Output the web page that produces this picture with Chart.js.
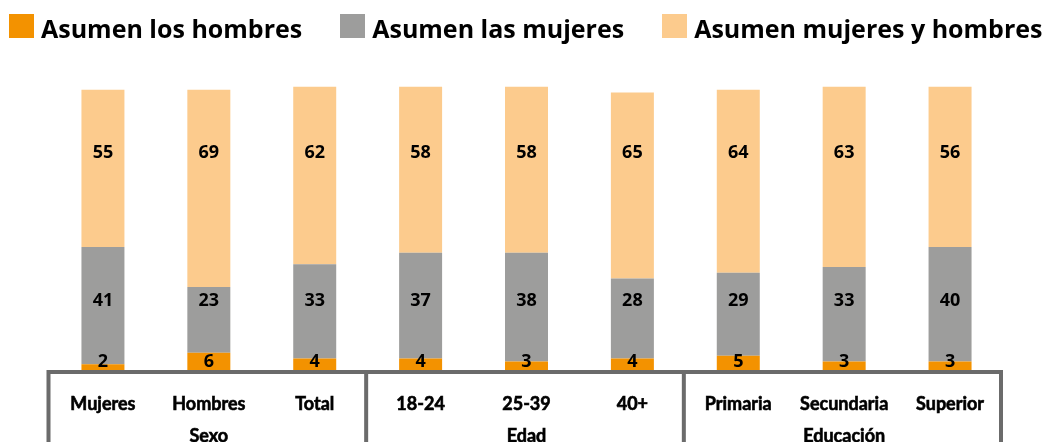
<!DOCTYPE html>
<html>
<head>
<meta charset="utf-8">
<script src="https://cdn.jsdelivr.net/npm/chart.js@4"></script>
<style>
  html, body { margin: 0; padding: 0; background: #fff; overflow: hidden; }
  #wrap { position: relative; width: 1043px; height: 442px; }
  #legend { position: absolute; left: 9px; top: 0; display: flex; align-items: flex-start; font-family: "Open Sans", sans-serif; font-weight: 700; font-size: 25px; color: #000; white-space: nowrap; }
  .item { display: flex; align-items: flex-start; margin-right: 38px; }
  .box { width: 25px; height: 24px; margin-top: 14px; margin-right: 7px; }
  .txt { line-height: 25px; margin-top: 16px; }
  canvas { position: absolute; left: 0; top: 0; }
</style>
</head>
<body>
<div id="wrap">
  <canvas id="c" width="1043" height="442"></canvas>
  <div id="legend"></div>
</div>
<script>
const CATEGORIES = ['Mujeres', 'Hombres', 'Total', '18-24', '25-39', '40+', 'Primaria', 'Secundaria', 'Superior'];
const GROUPS = ['Sexo', 'Edad', 'Educación'];
const GROUP_SIZE = 3;
const SERIES_NAMES = ['Asumen los hombres', 'Asumen las mujeres', 'Asumen mujeres y hombres'];
const HOMBRES = [2, 6, 4, 4, 3, 4, 5, 3, 3];
const MUJERES = [41, 23, 33, 37, 38, 28, 29, 33, 40];
const AMBOS = [55, 69, 62, 58, 58, 65, 64, 63, 56];
const COLORS = ['#F39200', '#9D9D9C', '#FCCB8D'];
const LABEL_LEVELS = [3, 24, 76];

const legendEl = document.getElementById('legend');
SERIES_NAMES.forEach((n, i) => {
  const it = document.createElement('div'); it.className = 'item';
  const b = document.createElement('div'); b.className = 'box'; b.style.background = COLORS[i];
  const t = document.createElement('div'); t.className = 'txt'; t.textContent = n;
  it.appendChild(b); it.appendChild(t); legendEl.appendChild(it);
});

const LABEL_FAMILY = 'Lato, "Open Sans", sans-serif';
const LABEL_FONT = 'bold 18px ' + LABEL_FAMILY;
const VALUE_FONT = 'bold 18px "Open Sans", sans-serif';

const valueLabels = {
  id: 'valueLabels',
  afterDatasetsDraw(chart) {
    const ctx = chart.ctx, y = chart.scales.y;
    ctx.save();
    ctx.font = VALUE_FONT; ctx.fillStyle = '#000';
    ctx.textAlign = 'center'; ctx.textBaseline = 'middle';
    chart.data.datasets.forEach((ds, di) => {
      const meta = chart.getDatasetMeta(di);
      meta.data.forEach((bar, i) => {
        ctx.fillText(String(ds.data[i]), bar.x, y.getPixelForValue(LABEL_LEVELS[di]));
      });
    });
    ctx.restore();
  }
};

const groupBox = {
  id: 'groupBox',
  afterDraw(chart) {
    const ctx = chart.ctx, area = chart.chartArea;
    const step = (area.right - area.left) / CATEGORIES.length;
    const lw = 4, top = area.bottom + lw / 2;
    const left = area.left - 1.5, right = area.right - 2;
    ctx.save();
    ctx.strokeStyle = '#6b6b6b'; ctx.lineWidth = lw;
    ctx.beginPath();
    ctx.moveTo(left - 2, top); ctx.lineTo(right + 2, top);
    const nb = CATEGORIES.length / GROUP_SIZE;
    for (let g = 0; g <= nb; g++) {
      let px = area.left + g * GROUP_SIZE * step - 1.5;
      if (g === 0) px = left;
      if (g === nb) px = right;
      ctx.moveTo(px, area.bottom); ctx.lineTo(px, chart.height + 10);
    }
    ctx.stroke();
    ctx.font = LABEL_FONT; ctx.fillStyle = '#000';
    ctx.strokeStyle = '#000'; ctx.lineWidth = 0.6;
    ctx.textAlign = 'center'; ctx.textBaseline = 'middle';
    GROUPS.forEach((g, gi) => {
      const cx = area.left + (gi * GROUP_SIZE + GROUP_SIZE / 2) * step;
      ctx.strokeText(g, cx, area.bottom + 66);
      ctx.fillText(g, cx, area.bottom + 66);
    });
    ctx.restore();
  }
};

new Chart(document.getElementById('c'), {
  type: 'bar',
  data: {
    labels: CATEGORIES,
    datasets: [
      { label: SERIES_NAMES[0], data: HOMBRES, backgroundColor: COLORS[0] },
      { label: SERIES_NAMES[1], data: MUJERES, backgroundColor: COLORS[1] },
      { label: SERIES_NAMES[2], data: AMBOS, backgroundColor: COLORS[2] }
    ]
  },
  options: {
    responsive: false,
    devicePixelRatio: 1,
    animation: false,
    datasets: { bar: { categoryPercentage: 1, barPercentage: 0.406, borderWidth: 0 } },
    layout: { padding: { left: 50, right: 40, top: 84, bottom: 0 } },
    plugins: { legend: { display: false }, tooltip: { enabled: false } },
    scales: {
      x: {
        stacked: true,
        grid: { display: false, drawTicks: false },
        border: { display: false },
        ticks: { color: '#000', font: { family: LABEL_FAMILY, size: 18, weight: 'bold' }, textStrokeColor: '#000', textStrokeWidth: 0.6, padding: 23, maxRotation: 0, autoSkip: false },
        afterFit(scale) { scale.height = 72; }
      },
      y: { stacked: true, display: false, min: 0, max: 100 }
    }
  },
  plugins: [valueLabels, groupBox]
});
</script>
</body>
</html>
